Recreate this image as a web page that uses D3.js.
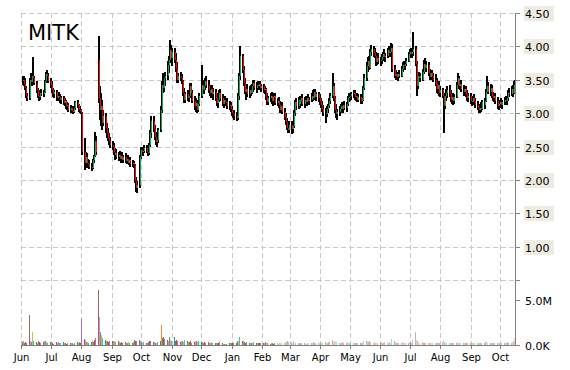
<html>
<head>
<meta charset="utf-8">
<title>MITK</title>
<style>
  body { margin: 0; background: #fff; }
  text { font-family: "DejaVu Sans", Verdana, sans-serif; }
</style>
<script src="https://d3js.org/d3.v7.min.js"></script>
</head>
<body>
<script>
/* data, one row per month (trading days of that month) */
var months = ["2014-06","2014-07","2014-08","2014-09","2014-10","2014-11","2014-12",
  "2015-01","2015-02","2015-03","2015-04","2015-05","2015-06","2015-07","2015-08","2015-09","2015-10"];

var opens = [
 [3.48,3.50,3.44,3.38,3.25,3.22,3.50,3.46,3.55,3.52,3.45,3.34,3.26,3.24,3.30,3.28,3.32,3.48,3.58,3.56,3.48],
 [3.42,3.34,3.30,3.28,3.31,3.22,3.26,3.24,3.20,3.22,3.15,3.18,3.10,3.12,3.05,3.08,3.03,3.02,3.08,3.16,3.12,3.05,3.04],
 [3.00,2.42,2.25,2.35,2.26,2.24,2.20,2.18,2.30,2.36,2.58,3.80,3.22,3.05,3.10,2.85,2.95,2.78,2.70,2.62,2.58],
 [2.52,2.50,2.42,2.38,2.40,2.35,2.38,2.32,2.36,2.30,2.34,2.28,2.32,2.26,2.30,2.24,2.26,2.22,1.98,1.88,1.92,2.35],
 [2.45,2.42,2.44,2.48,2.42,2.40,2.52,2.70,2.88,2.76,2.64,2.56,2.60,2.75,3.05,3.42,3.38,3.52,3.55,3.72,3.80,3.95,3.82],
 [3.92,3.80,3.72,3.66,3.50,3.55,3.52,3.48,3.30,3.20,3.28,3.22,3.26,3.40,3.30,3.18,3.10,3.15,3.05,3.14],
 [3.26,3.42,3.35,3.40,3.48,3.42,3.35,3.30,3.36,3.28,3.32,3.22,3.15,3.20,3.30,3.22,3.14,3.20,3.16,3.16,3.10,3.12,3.06],
 [3.00,2.98,2.95,2.92,3.08,3.25,3.55,3.85,3.65,3.45,3.32,3.36,3.28,3.35,3.30,3.40,3.45,3.38,3.42,3.40,3.44,3.38],
 [3.40,3.34,3.36,3.24,3.16,3.22,3.26,3.18,3.24,3.26,3.15,3.18,3.12,3.05,3.10,3.02,2.94,2.86,2.78,2.74],
 [2.82,2.76,2.80,3.00,3.16,3.10,3.20,3.14,3.18,3.22,3.14,3.20,3.16,3.22,3.18,3.20,3.26,3.22,3.32,3.24,3.28,3.22],
 [3.18,3.12,3.06,3.00,2.98,3.06,3.10,3.18,3.26,3.40,3.22,3.05,2.98,3.02,3.06,3.10,3.06,3.12,3.08,3.14,3.22,3.24],
 [3.26,3.28,3.30,3.24,3.26,3.20,3.24,3.18,3.22,3.20,3.38,3.52,3.70,3.78,3.68,3.92,3.96,3.90,3.86,3.76,3.82],
 [3.78,3.80,3.84,3.88,3.84,3.86,3.94,3.90,3.92,3.98,3.66,3.56,3.58,3.54,3.58,3.56,3.66,3.72,3.70,3.74,3.78,3.88],
 [3.92,3.88,3.92,3.96,3.74,3.40,3.56,3.52,3.56,3.50,3.62,3.74,3.68,3.72,3.60,3.54,3.60,3.56,3.50,3.44,3.36,3.42,3.30],
 [3.34,3.26,3.10,3.26,3.30,3.34,3.28,3.20,3.24,3.18,3.24,3.42,3.52,3.40,3.44,3.36,3.32,3.36,3.28,3.22,3.26],
 [3.18,3.16,3.22,3.18,3.12,3.08,3.04,3.08,3.06,3.16,3.12,3.18,3.32,3.40,3.32,3.38,3.26,3.22,3.26,3.18,3.10,3.14],
 [3.16,3.12,3.16,3.20,3.18,3.22,3.30,3.28,3.36,3.30,3.42]
];
var highs = [
 [3.55,3.56,3.52,3.40,3.30,3.52,3.60,3.58,3.84,3.55,3.48,3.38,3.30,3.35,3.36,3.35,3.50,3.62,3.65,3.60,3.52],
 [3.48,3.38,3.36,3.34,3.34,3.30,3.32,3.28,3.26,3.25,3.22,3.20,3.16,3.15,3.12,3.10,3.08,3.10,3.18,3.20,3.14,3.10,3.06],
 [3.02,2.62,2.42,2.40,2.32,2.30,2.26,2.32,2.38,2.72,2.65,4.15,3.40,3.30,3.20,3.05,3.00,2.85,2.78,2.70,2.64],
 [2.58,2.55,2.48,2.44,2.46,2.42,2.44,2.40,2.42,2.38,2.40,2.36,2.38,2.34,2.34,2.30,2.28,2.24,2.05,1.98,2.38,2.50],
 [2.50,2.48,2.52,2.52,2.46,2.55,2.75,2.95,2.96,2.82,2.72,2.65,2.78,3.10,3.48,3.60,3.58,3.62,3.78,3.85,4.10,4.02,3.98],
 [3.98,3.90,3.80,3.76,3.60,3.62,3.58,3.50,3.38,3.32,3.35,3.30,3.45,3.45,3.35,3.25,3.22,3.20,3.18,3.30],
 [3.72,3.50,3.45,3.52,3.55,3.50,3.42,3.40,3.42,3.38,3.36,3.30,3.26,3.34,3.36,3.28,3.24,3.26,3.20,3.22,3.18,3.16,3.10],
 [3.05,3.04,3.02,3.10,3.30,3.60,4.00,3.88,3.70,3.52,3.40,3.44,3.40,3.42,3.44,3.50,3.50,3.46,3.48,3.46,3.48,3.44],
 [3.44,3.40,3.38,3.30,3.26,3.30,3.32,3.28,3.30,3.30,3.22,3.24,3.18,3.14,3.16,3.08,3.00,2.92,2.86,2.88],
 [2.88,2.84,3.05,3.20,3.22,3.24,3.26,3.22,3.26,3.28,3.24,3.26,3.26,3.28,3.24,3.30,3.34,3.36,3.36,3.32,3.32,3.28],
 [3.22,3.18,3.12,3.08,3.10,3.14,3.22,3.30,3.60,3.45,3.26,3.14,3.06,3.10,3.14,3.16,3.14,3.18,3.16,3.26,3.30,3.28],
 [3.32,3.34,3.34,3.30,3.30,3.28,3.28,3.26,3.26,3.40,3.58,3.76,3.84,3.86,3.96,4.02,4.00,3.98,3.92,3.86,3.90],
 [3.84,3.88,3.92,3.96,3.90,3.98,4.00,3.96,4.05,4.04,3.72,3.64,3.62,3.62,3.64,3.70,3.76,3.78,3.78,3.82,3.92,3.96],
 [3.98,3.96,4.22,4.00,3.78,3.62,3.62,3.60,3.62,3.66,3.80,3.82,3.78,3.76,3.66,3.64,3.64,3.60,3.58,3.52,3.46,3.48,3.40],
 [3.38,3.30,3.30,3.36,3.40,3.42,3.34,3.30,3.30,3.28,3.46,3.60,3.56,3.48,3.50,3.42,3.40,3.40,3.34,3.30,3.30],
 [3.24,3.26,3.28,3.22,3.18,3.14,3.12,3.16,3.20,3.22,3.20,3.36,3.56,3.46,3.44,3.42,3.32,3.30,3.30,3.24,3.18,3.20],
 [3.22,3.20,3.24,3.26,3.26,3.34,3.38,3.40,3.42,3.48,3.50]
];
var lows = [
 [3.42,3.40,3.35,3.22,3.18,3.20,3.42,3.40,3.48,3.42,3.30,3.22,3.18,3.20,3.25,3.24,3.30,3.45,3.52,3.45,3.38],
 [3.30,3.25,3.24,3.22,3.18,3.18,3.20,3.15,3.14,3.12,3.10,3.06,3.05,3.02,3.00,3.00,2.99,3.00,3.05,3.08,3.02,3.00,2.98],
 [2.38,2.15,2.18,2.22,2.18,2.16,2.14,2.16,2.26,2.34,2.38,3.15,2.90,2.80,2.75,2.80,2.70,2.62,2.58,2.52,2.48],
 [2.45,2.38,2.34,2.30,2.32,2.28,2.30,2.26,2.28,2.25,2.26,2.24,2.24,2.22,2.20,2.20,2.18,1.95,1.82,1.80,1.88,2.32],
 [2.38,2.36,2.40,2.40,2.36,2.38,2.50,2.62,2.72,2.60,2.52,2.50,2.55,2.72,3.00,3.30,3.32,3.40,3.50,3.60,3.75,3.78,3.70],
 [3.75,3.68,3.62,3.45,3.45,3.48,3.44,3.25,3.15,3.15,3.18,3.16,3.22,3.25,3.15,3.05,3.02,3.00,3.02,3.10],
 [3.22,3.30,3.28,3.34,3.38,3.30,3.25,3.22,3.24,3.20,3.18,3.10,3.08,3.16,3.18,3.10,3.08,3.12,3.10,3.06,3.04,3.02,2.96],
 [2.92,2.90,2.88,2.90,3.05,3.20,3.50,3.60,3.40,3.28,3.20,3.24,3.22,3.26,3.28,3.32,3.35,3.30,3.36,3.34,3.36,3.32],
 [3.30,3.28,3.20,3.12,3.12,3.16,3.14,3.10,3.18,3.12,3.10,3.08,3.00,3.00,2.98,2.90,2.82,2.74,2.70,2.70],
 [2.68,2.70,2.78,2.96,3.04,3.06,3.10,3.08,3.12,3.10,3.08,3.12,3.10,3.14,3.12,3.16,3.18,3.20,3.20,3.18,3.16,3.12],
 [3.08,3.02,2.96,2.85,2.94,3.00,3.08,3.14,3.22,3.18,3.00,2.92,2.90,2.96,3.00,3.02,3.00,3.04,3.02,3.10,3.16,3.18],
 [3.20,3.22,3.20,3.18,3.16,3.16,3.14,3.14,3.16,3.18,3.34,3.48,3.62,3.64,3.66,3.86,3.84,3.82,3.70,3.72,3.74],
 [3.70,3.74,3.78,3.80,3.76,3.82,3.86,3.84,3.88,3.62,3.52,3.50,3.50,3.48,3.52,3.54,3.62,3.66,3.64,3.70,3.76,3.82],
 [3.84,3.82,3.86,3.70,3.26,3.36,3.48,3.46,3.48,3.48,3.58,3.64,3.62,3.56,3.50,3.50,3.50,3.46,3.40,3.30,3.28,3.26,3.24],
 [3.22,2.70,3.06,3.18,3.22,3.24,3.16,3.14,3.12,3.14,3.22,3.38,3.36,3.34,3.32,3.26,3.26,3.24,3.18,3.16,3.14],
 [3.10,3.12,3.14,3.08,3.04,3.00,3.00,3.02,3.04,3.08,3.06,3.16,3.28,3.28,3.26,3.22,3.18,3.16,3.14,3.06,3.04,3.08],
 [3.08,3.06,3.12,3.14,3.12,3.18,3.24,3.26,3.24,3.28,3.34]
];
var closes = [
 [3.50,3.44,3.38,3.25,3.22,3.50,3.46,3.55,3.52,3.45,3.34,3.26,3.24,3.30,3.28,3.32,3.48,3.58,3.56,3.48,3.42],
 [3.34,3.30,3.28,3.31,3.22,3.26,3.24,3.20,3.22,3.15,3.18,3.10,3.12,3.05,3.08,3.03,3.02,3.08,3.16,3.12,3.05,3.04,3.00],
 [2.42,2.25,2.35,2.26,2.24,2.20,2.18,2.30,2.36,2.58,2.42,3.22,3.05,3.10,2.85,2.95,2.78,2.70,2.62,2.58,2.52],
 [2.50,2.42,2.38,2.40,2.35,2.38,2.32,2.36,2.30,2.34,2.28,2.32,2.26,2.30,2.24,2.26,2.22,1.98,1.88,1.92,2.35,2.45],
 [2.42,2.44,2.48,2.42,2.40,2.52,2.70,2.88,2.76,2.64,2.56,2.60,2.75,3.05,3.42,3.38,3.52,3.55,3.72,3.80,3.95,3.82,3.92],
 [3.80,3.72,3.66,3.50,3.55,3.52,3.48,3.30,3.20,3.28,3.22,3.26,3.40,3.30,3.18,3.10,3.15,3.05,3.14,3.26],
 [3.42,3.35,3.40,3.48,3.42,3.35,3.30,3.36,3.28,3.32,3.22,3.15,3.20,3.30,3.22,3.14,3.20,3.16,3.16,3.10,3.12,3.06,3.00],
 [2.98,2.95,2.92,3.08,3.25,3.55,3.85,3.65,3.45,3.32,3.36,3.28,3.35,3.30,3.40,3.45,3.38,3.42,3.40,3.44,3.38,3.40],
 [3.34,3.36,3.24,3.16,3.22,3.26,3.18,3.24,3.26,3.15,3.18,3.12,3.05,3.10,3.02,2.94,2.86,2.78,2.74,2.82],
 [2.76,2.80,3.00,3.16,3.10,3.20,3.14,3.18,3.22,3.14,3.20,3.16,3.22,3.18,3.20,3.26,3.22,3.32,3.24,3.28,3.22,3.18],
 [3.12,3.06,3.00,2.98,3.06,3.10,3.18,3.26,3.40,3.22,3.05,2.98,3.02,3.06,3.10,3.06,3.12,3.08,3.14,3.22,3.24,3.26],
 [3.28,3.30,3.24,3.26,3.20,3.24,3.18,3.22,3.20,3.38,3.52,3.70,3.78,3.68,3.92,3.96,3.90,3.86,3.76,3.82,3.78],
 [3.80,3.84,3.88,3.84,3.86,3.94,3.90,3.92,3.98,3.66,3.56,3.58,3.54,3.58,3.56,3.66,3.72,3.70,3.74,3.78,3.88,3.92],
 [3.88,3.92,3.96,3.74,3.40,3.56,3.52,3.56,3.50,3.62,3.74,3.68,3.72,3.60,3.54,3.60,3.56,3.50,3.44,3.36,3.42,3.30,3.34],
 [3.26,3.10,3.26,3.30,3.34,3.28,3.20,3.24,3.18,3.24,3.42,3.52,3.40,3.44,3.36,3.32,3.36,3.28,3.22,3.26,3.18],
 [3.16,3.22,3.18,3.12,3.08,3.04,3.08,3.06,3.16,3.12,3.18,3.32,3.40,3.32,3.38,3.26,3.22,3.26,3.18,3.10,3.14,3.16],
 [3.12,3.16,3.20,3.18,3.22,3.30,3.28,3.36,3.30,3.42,3.38]
];
// volume in millions of shares
var volumes = [
 [0.3,0.4,0.2,0.3,0.2,3.3,0.5,0.3,1.4,0.4,0.3,0.2,0.4,0.3,0.2,0.3,0.4,0.5,0.3,0.2,0.3],
 [0.3,0.2,0.2,0.1,0.3,0.2,0.3,0.2,0.2,0.3,0.2,0.2,0.1,0.2,0.2,0.2,0.2,0.1,0.2,0.3,0.2,0.3,0.2],
 [2.9,0.7,0.6,0.3,0.3,0.2,0.3,0.4,0.3,0.6,0.8,6.1,3.1,1.5,1.1,0.8,0.6,0.4,0.4,0.3,0.5],
 [0.4,0.5,0.3,0.4,0.3,0.5,0.3,0.2,0.3,0.2,0.3,0.2,0.2,0.3,0.2,0.2,0.3,0.6,0.5,0.4,0.6,0.4],
 [0.3,0.2,0.3,0.2,0.2,0.3,0.4,0.5,0.3,0.3,0.2,0.2,0.3,0.5,2.2,0.8,0.9,0.7,0.6,0.5,0.9,0.6,0.5],
 [0.9,0.5,0.4,0.6,0.4,0.3,0.5,0.4,0.3,0.6,0.5,0.3,0.3,0.4,0.2,0.3,0.4,0.5,0.3,0.4],
 [0.3,0.3,0.2,0.3,0.2,0.3,0.2,0.2,0.3,0.2,0.2,0.2,0.2,0.2,0.3,0.2,0.1,0.1,0.1,0.1,0.2,0.2,0.2],
 [0.2,0.2,0.2,0.2,0.4,0.5,0.9,0.5,0.4,0.3,0.2,0.3,0.2,0.2,0.2,0.2,0.3,0.2,0.2,0.2,0.2,0.2],
 [0.2,0.2,0.3,0.2,0.2,0.1,0.2,0.2,0.1,0.2,0.2,0.1,0.2,0.2,0.2,0.2,0.3,0.3,0.4,0.3],
 [0.3,0.2,0.4,0.3,0.2,0.2,0.2,0.1,0.2,0.2,0.2,0.2,0.1,0.2,0.2,0.2,0.2,0.3,0.2,0.2,0.2,0.2],
 [0.2,0.3,0.2,0.3,0.2,0.2,0.3,0.3,0.6,0.4,0.3,0.5,0.3,0.2,0.2,0.2,0.3,0.2,0.2,0.3,0.2,0.2],
 [0.2,0.2,0.2,0.2,0.2,0.2,0.2,0.2,0.2,0.3,0.4,0.5,0.4,0.3,0.5,0.3,0.2,0.3,0.2,0.2,0.2],
 [0.2,0.3,0.2,0.2,0.3,0.2,0.2,0.3,0.2,0.7,0.4,0.3,0.2,0.2,0.2,0.2,0.3,0.2,0.2,0.2,0.2,0.3],
 [0.3,0.2,0.6,1.5,0.6,0.4,0.3,0.2,0.2,0.3,0.2,0.2,0.2,0.2,0.2,0.2,0.2,0.2,0.2,0.2,0.2,0.2,0.2],
 [0.3,0.6,0.3,0.2,0.2,0.2,0.2,0.2,0.2,0.2,0.2,0.3,0.2,0.2,0.2,0.2,0.2,0.2,0.2,0.2,0.2],
 [0.2,0.2,0.2,0.2,0.2,0.2,0.2,0.2,0.2,0.2,0.2,0.3,0.4,0.2,0.2,0.2,0.2,0.2,0.2,0.2,0.2,0.2],
 [0.2,0.2,0.2,0.2,0.2,0.3,0.2,0.2,0.3,0.4,0.8]
];
var priceTicks = [0.5,1.0,1.5,2.0,2.5,3.0,3.5,4.0,4.5];
var volTicks = [0, 5];
var monthLabels = ["Jun","Jul","Aug","Sep","Oct","Nov","Dec","Jan","Feb","Mar","Apr","May","Jun","Jul","Aug","Sep","Oct"];

/* flatten: walk the weekdays of each month */
var bars = [];
months.forEach(function(m, mi){
  var p = m.split("-");
  var d = new Date(+p[0], +p[1]-1, 1);
  var k = 0;
  while (d.getMonth() == +p[1]-1 && k < closes[mi].length) {
    var wd = d.getDay();
    if (wd != 0 && wd != 6) {
      bars.push({date:new Date(d), o:opens[mi][k], h:highs[mi][k], l:lows[mi][k], c:closes[mi][k], v:volumes[mi][k]});
      k++;
    }
    d.setDate(d.getDate()+1);
  }
});

var width = 570, height = 370;
var plotL = 21, plotR = 515, plotT = 13, plotB = 345;

var svg = d3.select("body").append("svg")
  .attr("width", width).attr("height", height)
  .style("background", "#fff");

var x = d3.scaleTime()
  .domain([new Date(2014,5,1), new Date(2015,9,16)])
  .range([plotL, plotR]);
var y = d3.scaleLinear().domain([0.5, 4.5]).range([280, plotT]);
var yv = d3.scaleLinear().domain([0, 5]).range([plotB, 300]);

var monthStarts = months.map(function(m){ var p = m.split("-"); return new Date(+p[0], +p[1]-1, 1); });

// grid
var grid = svg.append("g").attr("stroke", "#c8c8c8").attr("stroke-dasharray", "5,3").attr("shape-rendering","crispEdges");
grid.selectAll(".hg").data(priceTicks).enter().append("line")
  .attr("x1", plotL).attr("x2", plotR)
  .attr("y1", function(d){ return Math.round(y(d)) + 0.5; })
  .attr("y2", function(d){ return Math.round(y(d)) + 0.5; });
grid.selectAll(".vg").data(monthStarts).enter().append("line")
  .attr("y1", plotT).attr("y2", plotB)
  .attr("x1", function(d){ return Math.round(x(d)) + 0.5; })
  .attr("x2", function(d){ return Math.round(x(d)) + 0.5; });

// volume bars
var palette = d3.schemeCategory10;
svg.append("g").selectAll("rect").data(bars).enter().append("rect")
  .attr("x", function(d){ return Math.round(x(d.date)); })
  .attr("width", 1)
  .attr("y", function(d){ return yv(d.v); })
  .attr("height", function(d){ return plotB - yv(d.v); })
  .attr("fill", function(d, i){ return palette[i % 10]; })
  .attr("opacity", function(d){ return d.date < new Date(2015,1,15) ? 0.9 : 0.45; })
  .attr("shape-rendering", "crispEdges");

// candles: black high-low bar, coloured body beside it
var candles = svg.append("g").attr("shape-rendering", "crispEdges");
candles.selectAll(".wick").data(bars).enter().append("rect")
  .attr("x", function(d){ return Math.round(x(d.date)); })
  .attr("width", 2)
  .attr("y", function(d){ return y(d.h); })
  .attr("height", function(d){ return Math.max(1, y(d.l) - y(d.h)); })
  .attr("fill", "#000");
candles.selectAll(".body").data(bars).enter().append("rect")
  .attr("x", function(d){ return Math.round(x(d.date)) + 1; })
  .attr("width", 1)
  .attr("y", function(d){ return y(Math.max(d.o, d.c)); })
  .attr("height", function(d){ return Math.max(1, Math.abs(y(d.o) - y(d.c))); })
  .attr("fill", function(d){ return d.c >= d.o ? "#00b050" : "#ff0000"; });

// axes
var ax = svg.append("g").attr("shape-rendering", "crispEdges");
ax.append("line").attr("x1", plotR + 0.5).attr("x2", plotR + 0.5).attr("y1", plotT).attr("y2", plotB)
  .attr("stroke", "#808080");
ax.append("line").attr("x1", plotL).attr("x2", plotR).attr("y1", plotB + 0.5).attr("y2", plotB + 0.5)
  .attr("stroke", "#808080");

var pt = ax.selectAll(".pt").data(priceTicks).enter().append("g")
  .attr("transform", function(d){ return "translate(" + plotR + "," + (Math.round(y(d)) + 0.5) + ")"; });
pt.append("line").attr("x1", 0).attr("x2", 5).attr("stroke", "#808080");
pt.filter(function(d){ return d > 0.5; }).append("rect")
  .attr("x", 9).attr("y", -8).attr("width", 30).attr("height", 15).attr("fill", "#eeebe0");
pt.filter(function(d){ return d > 0.5; }).append("text")
  .attr("x", 10).attr("y", 4).attr("font-size", 11).attr("fill", "#000")
  .text(function(d){ return d3.format(".2f")(d); });

var vt = ax.selectAll(".vt").data(volTicks).enter().append("g")
  .attr("transform", function(d){ return "translate(" + plotR + "," + (Math.round(yv(d)) + 0.5) + ")"; });
vt.append("line").attr("x1", 0).attr("x2", 5).attr("stroke", "#808080");
vt.append("text").attr("x", 10).attr("y", 4).attr("font-size", 11).attr("fill", "#000")
  .text(function(d){ return d == 0 ? "0.0K" : d3.format(".1f")(d) + "M"; });

// month axis
var mt = ax.selectAll(".mt").data(monthStarts).enter().append("g")
  .attr("transform", function(d){ return "translate(" + (Math.round(x(d)) + 0.5) + "," + plotB + ")"; });
mt.append("line").attr("y1", 0).attr("y2", 4).attr("stroke", "#808080");
mt.append("text").attr("y", 16).attr("text-anchor", "middle").attr("font-size", 10).attr("fill", "#000")
  .text(function(d, i){ return monthLabels[i]; });

// title
svg.append("text").attr("x", 28).attr("y", 40).attr("font-size", 21).attr("fill", "#000").text("MITK");
</script>
</body>
</html>
